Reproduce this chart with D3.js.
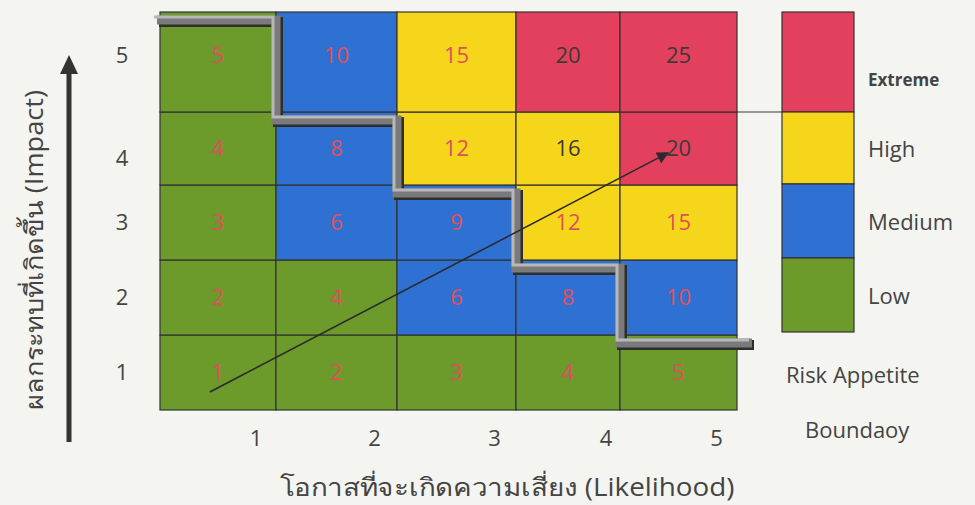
<!DOCTYPE html>
<html>
<head>
<meta charset="utf-8">
<script src="https://cdn.jsdelivr.net/npm/d3@7"></script>
<style>
  html, body { margin: 0; padding: 0; background: #f4f4f1; }
  svg { display: block; }
  text { font-family: "Open Sans", "Noto Sans", sans-serif; fill: #444; }
</style>
</head>
<body>
<div class="chart"></div>
<script>
const width = 975;
const height = 505;

// data
const likelihood = [1, 2, 3, 4, 5];
const impact = [1, 2, 3, 4, 5];
// risk level of each cell, one row per impact (1 at the bottom)
const levelRows = [
  ["Low", "Low", "Low", "Low", "Low"],
  ["Low", "Low", "Medium", "Medium", "Medium"],
  ["Low", "Medium", "Medium", "High", "High"],
  ["Low", "Medium", "High", "High", "Extreme"],
  ["Low", "Medium", "High", "Extreme", "Extreme"]
];
const levels = ["Extreme", "High", "Medium", "Low"];
const levelColors = ["#e3405e", "#f6d61b", "#2f71d2", "#6c9a2b"];
const appetite = [5, 4, 3, 2, 1]; // top of the accepted zone per likelihood
const trend = [[0.43, 0.24], [4.41, 3.44]]; // arrow, in cell units
const xTitle = "โอกาสที่จะเกิดความเสี่ยง (Likelihood)";
const yTitle = "ผลกระทบที่เกิดขึ้น (Impact)";

const cells = [];
impact.forEach((imp, r) => {
  likelihood.forEach((lik, c) => {
    cells.push({ lik, imp, value: lik * imp, level: levelRows[r][c] });
  });
});

const svg = d3.select(".chart").append("svg")
  .attr("width", width)
  .attr("height", height);

// the scanned grid is a little uneven, so piecewise scales
const x = d3.scaleLinear().domain([0, 1, 2, 3, 4, 5]).range([160, 276, 397, 516, 620, 737]);
const y = d3.scaleLinear().domain([0, 1, 2, 3, 4, 5]).range([410, 335, 260, 185, 112, 12]);
const color = d3.scaleOrdinal().domain(levels).range(levelColors);

svg.append("g").selectAll("rect")
  .data(cells)
  .join("rect")
    .attr("x", d => x(d.lik - 1))
    .attr("y", d => y(d.imp))
    .attr("width", d => x(d.lik) - x(d.lik - 1))
    .attr("height", d => y(d.imp - 1) - y(d.imp))
    .attr("fill", d => color(d.level))
    .attr("stroke", "#333")
    .attr("stroke-width", 1.2);

svg.append("g").selectAll("text")
  .data(cells)
  .join("text")
    .attr("x", d => (x(d.lik - 1) + x(d.lik)) / 2)
    .attr("y", d => (y(d.imp - 1) + y(d.imp)) / 2 - (d.imp === 5 ? 7 : 0))
    .attr("dy", "0.35em")
    .attr("text-anchor", "middle")
    .style("font-size", "22px")
    .style("fill", d => d.value >= 16 ? "#3a3a3a" : "#e0505c")
    .text(d => d.value);

// risk appetite boundary (bevelled staircase)
const stairPts = [[x(0) - 3, y(appetite[0])]];
appetite.forEach((a, i) => {
  stairPts.push([x(i + 1), y(a)]);
  if (i < appetite.length - 1) stairPts.push([x(i + 1), y(appetite[i + 1])]);
});
stairPts[stairPts.length - 1][0] = x(5) + 15;
const stair = d3.line();
const stairG = svg.append("g").attr("transform", "translate(0,8)");
stairG.append("path").attr("d", stair(stairPts))
  .attr("transform", "translate(2,2)")
  .attr("fill", "none").attr("stroke", "#2e2e2e").attr("stroke-width", 10);
stairG.append("path").attr("d", stair(stairPts))
  .attr("fill", "none").attr("stroke", "#7a7a7a").attr("stroke-width", 9);
stairG.append("path").attr("d", stair(stairPts))
  .attr("transform", "translate(-3,-3)")
  .attr("fill", "none").attr("stroke", "#b8b8b8").attr("stroke-width", 3);

// trend arrow
svg.append("defs").append("marker")
  .attr("id", "head")
  .attr("viewBox", "0 0 10 10")
  .attr("refX", 9).attr("refY", 5)
  .attr("markerWidth", 18).attr("markerHeight", 12)
  .attr("markerUnits", "userSpaceOnUse")
  .attr("orient", "auto")
  .append("path").attr("d", "M0,0L10,5L0,10z").attr("fill", "#2a2a2a");
svg.append("line")
  .attr("x1", x(trend[0][0])).attr("y1", y(trend[0][1]))
  .attr("x2", x(trend[1][0])).attr("y2", y(trend[1][1]))
  .attr("stroke", "#2a2a2a").attr("stroke-width", 1.6)
  .attr("marker-end", "url(#head)");

// axes tick labels
svg.append("g").selectAll("text")
  .data(likelihood)
  .join("text")
    .attr("x", d => x(d - 0.5) + 38)
    .attr("y", 438)
    .attr("dy", "0.35em")
    .attr("text-anchor", "middle")
    .style("font-size", "22px")
    .text(d => d);

svg.append("g").selectAll("text")
  .data(impact)
  .join("text")
    .attr("x", 122)
    .attr("y", d => (y(d - 1) + y(d)) / 2 - (d === 5 ? 7 : 0) + (d === 4 ? 10 : 0))
    .attr("dy", "0.35em")
    .attr("text-anchor", "middle")
    .style("font-size", "22px")
    .text(d => d);

// vertical arrow beside impact axis
svg.append("line")
  .attr("x1", 69).attr("y1", 442).attr("x2", 69).attr("y2", 70)
  .attr("stroke", "#333").attr("stroke-width", 5);
svg.append("path")
  .attr("d", "M69,55L78,74L60,74Z")
  .attr("fill", "#333");

svg.append("text")
  .attr("transform", "translate(34,250) rotate(-90)")
  .attr("text-anchor", "middle")
  .attr("dy", "0.35em")
  .attr("textLength", 320)
  .attr("lengthAdjust", "spacingAndGlyphs")
  .style("font-size", "25px")
  .text(yTitle);

svg.append("text")
  .attr("x", 507)
  .attr("y", 487)
  .attr("text-anchor", "middle")
  .attr("dy", "0.35em")
  .attr("textLength", 455)
  .attr("lengthAdjust", "spacingAndGlyphs")
  .style("font-size", "25px")
  .text(xTitle);

// legend
const legendY = d3.scaleLinear().domain([0, 1, 2, 3, 4]).range([12, 112, 184, 258, 332]);
const lg = svg.append("g");
svg.append("line")
  .attr("x1", x(5)).attr("x2", 782)
  .attr("y1", y(4)).attr("y2", y(4))
  .attr("stroke", "#3a3a3a").attr("stroke-width", 1);
lg.selectAll("rect")
  .data(levels)
  .join("rect")
    .attr("x", 782)
    .attr("width", 72)
    .attr("y", (d, i) => legendY(i))
    .attr("height", (d, i) => legendY(i + 1) - legendY(i))
    .attr("fill", d => color(d))
    .attr("stroke", "#333")
    .attr("stroke-width", 1.2);
lg.selectAll("text")
  .data(levels)
  .join("text")
    .attr("x", 868)
    .attr("y", (d, i) => i === 0 ? 80 : (legendY(i) + legendY(i + 1)) / 2 + 1)
    .attr("dy", "0.35em")
    .style("font-size", (d, i) => i === 0 ? "17px" : "22px")
    .style("font-weight", (d, i) => i === 0 ? "bold" : "normal")
    .text(d => d);

svg.append("text")
  .attr("x", 786).attr("y", 375).attr("dy", "0.35em")
  .style("font-size", "22px")
  .text("Risk Appetite");
svg.append("text")
  .attr("x", 805).attr("y", 430).attr("dy", "0.35em")
  .style("font-size", "22px")
  .text("Boundaoy");
</script>
</body>
</html>
